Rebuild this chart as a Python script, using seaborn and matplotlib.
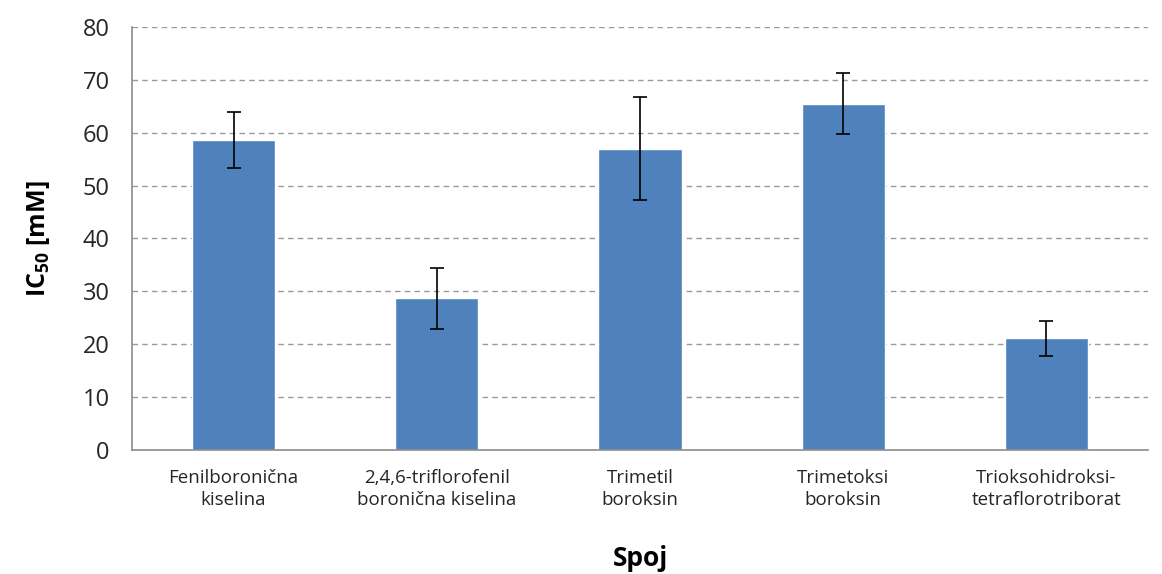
import pandas as pd
import numpy as np
import seaborn as sns
import matplotlib.pyplot as plt

# values
compounds = [
    "Fenilboronična\nkiselina",
    "2,4,6-triflorofenil\nboronična kiselina",
    "Trimetil\nboroksin",
    "Trimetoksi\nboroksin",
    "Trioksohidroksi-\ntetraflorotriborat",
]
ic50 = [58.7, 28.7, 57.0, 65.5, 21.1]
ic50_err = [5.3, 5.8, 9.8, 5.8, 3.3]

df = pd.DataFrame({"Spoj": compounds, "IC50": ic50, "err": ic50_err})

sns.set_style("white")
plt.rcParams['font.family'] = ['Open Sans', 'DejaVu Sans']
plt.rcParams['mathtext.fontset'] = 'custom'
plt.rcParams['mathtext.rm'] = 'Open Sans'
plt.rcParams['mathtext.bf'] = 'Open Sans:bold'
plt.rcParams['text.color'] = '#1a1a1a'
plt.rcParams['axes.labelcolor'] = '#000000'
plt.rcParams['xtick.labelcolor'] = '#262626'
plt.rcParams['ytick.labelcolor'] = '#262626'

fig = plt.figure(figsize=(11.62, 5.74), dpi=100)
ax = fig.add_axes([0.1136, 0.216, 0.8744, 0.737])

sns.barplot(data=df, x="Spoj", y="IC50", color="#4F81BD", saturation=1,
            width=0.41, errorbar=None, ax=ax, zorder=2)
ax.errorbar(np.arange(len(df)), df["IC50"], yerr=df["err"], fmt="none",
            ecolor="black", elinewidth=1.2, capsize=5, capthick=1.2, zorder=3)

ax.set_ylim(0, 80)
ax.set_yticks(range(0, 81, 10))
ax.set_xlim(-0.5, len(df) - 0.5)
ax.yaxis.grid(True, linestyle=(0, (4, 3)), color="#9a9a9a", linewidth=1, zorder=0)
ax.set_axisbelow(True)

for side in ["top", "right"]:
    ax.spines[side].set_visible(False)
for side in ["left", "bottom"]:
    ax.spines[side].set_color("#8c8c8c")
    ax.spines[side].set_linewidth(1.2)

# category boundary ticks on the x axis, like Excel
ax.set_xticks(np.arange(len(df)))
ax.set_xticks(np.arange(-0.5, len(df)), minor=True)
ax.tick_params(axis="x", which="major", length=0, pad=14)
ax.tick_params(axis="x", which="minor", length=6, color="#8c8c8c", width=1)
ax.tick_params(axis="y", length=8, color="#8c8c8c", labelsize=17, pad=8)
ax.set_xticklabels(compounds, fontsize=13.5, linespacing=1.25)

ax.set_xlabel("Spoj", fontsize=19, fontweight="bold", labelpad=26)
ax.set_ylabel(r"$\mathbf{IC_{50}}$ [mM]", fontsize=18, fontweight="bold", labelpad=22)

fig.savefig("out.png", dpi=100)
